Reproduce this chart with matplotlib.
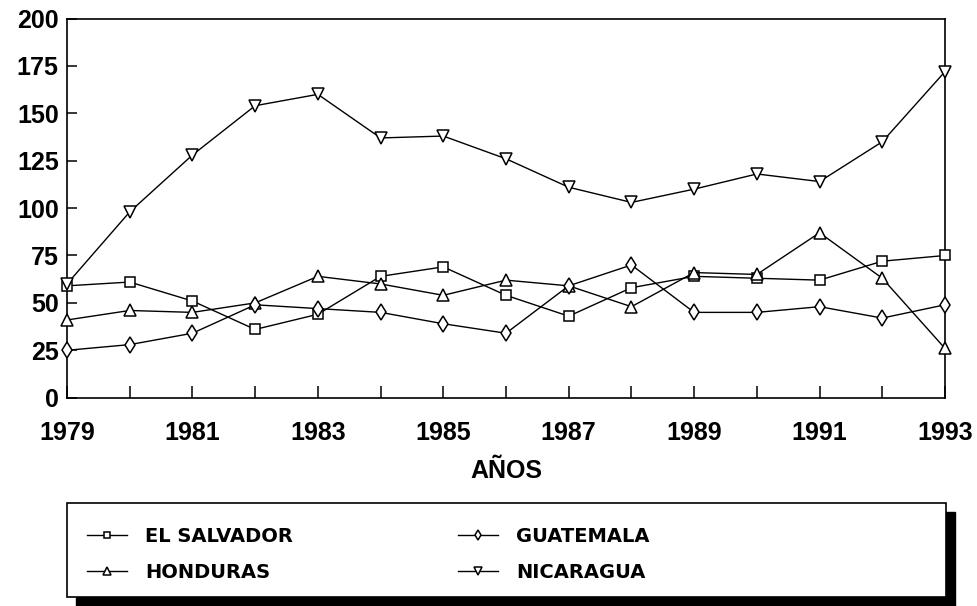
import numpy as np
import matplotlib
matplotlib.use('Agg')
import matplotlib.pyplot as plt
from matplotlib.patches import Rectangle

# data
years = list(range(1979, 1994))
el_salvador = [59, 61, 51, 36, 44, 64, 69, 54, 43, 58, 64, 63, 62, 72, 75]
guatemala = [25, 28, 34, 49, 47, 45, 39, 34, 59, 70, 45, 45, 48, 42, 49]
honduras = [41, 46, 45, 50, 64, 60, 54, 62, 59, 48, 66, 65, 87, 63, 26]
nicaragua = [60, 98, 128, 154, 160, 137, 138, 126, 111, 103, 110, 118, 114, 135, 172]

series = [
    ('EL SALVADOR', el_salvador, 's', 7),
    ('HONDURAS', honduras, '^', 8),
    ('GUATEMALA', guatemala, 'd', 8),
    ('NICARAGUA', nicaragua, 'v', 8),
]

tick_font = {'family': 'Liberation Sans', 'weight': 'bold', 'size': 18}

fig = plt.figure(figsize=(9.78, 6.06), dpi=100)
ax = fig.add_axes([67 / 978, 1 - 397.7 / 606, (945 - 67) / 978, (397.7 - 18.5) / 606])

handles = {}
for name, vals, mk, ms in series:
    line, = ax.plot(years, vals, color='black', lw=1.0, marker=mk, ms=ms,
                    mfc='white', mec='black', mew=1.1, clip_on=False, zorder=3)
    handles[name] = line

ax.set_xlim(1979, 1993)
ax.set_ylim(0, 200)
ax.set_xticks(years[::2])
ax.set_xticks(years[1::2], minor=True)
ax.set_yticks(np.arange(0, 201, 25))
ax.tick_params(axis='x', which='both', direction='in', length=9, width=1.1, pad=17)
ax.tick_params(axis='y', direction='in', length=7, width=1.1, pad=6)
for lab in ax.get_xticklabels() + ax.get_yticklabels():
    lab.set_fontproperties(tick_font)
for s in ax.spines.values():
    s.set_linewidth(1.2)
ax.set_xlabel('AÑOS', fontdict=tick_font, labelpad=10)

# legend box with solid black drop shadow
bx0, bx1 = 67 / 978, 946 / 978
by0, by1 = 1 - 597 / 606, 1 - 503 / 606
dx, dy = 9 / 978, 9 / 606
fig.patches.append(Rectangle((bx0 + dx, by0 - dy), bx1 - bx0, by1 - by0,
                             transform=fig.transFigure, facecolor='black',
                             edgecolor='black', zorder=0))
fig.patches.append(Rectangle((bx0, by0), bx1 - bx0, by1 - by0,
                             transform=fig.transFigure, facecolor='white',
                             edgecolor='black', lw=1.2, zorder=1))

order = ['EL SALVADOR', 'HONDURAS', 'GUATEMALA', 'NICARAGUA']
leg = fig.legend([handles[n] for n in order], order, ncol=2, frameon=False,
                 loc='upper left', bbox_to_anchor=(87 / 978, 1 - 527 / 606),
                 borderpad=0, borderaxespad=0, handlelength=2.05, handletextpad=0.93,
                 columnspacing=8.5, labelspacing=0.85, markerscale=0.65,
                 prop={'family': 'DejaVu Sans', 'weight': 'bold', 'size': 14})
leg.set_zorder(5)

fig.savefig('out.png', dpi=100)
